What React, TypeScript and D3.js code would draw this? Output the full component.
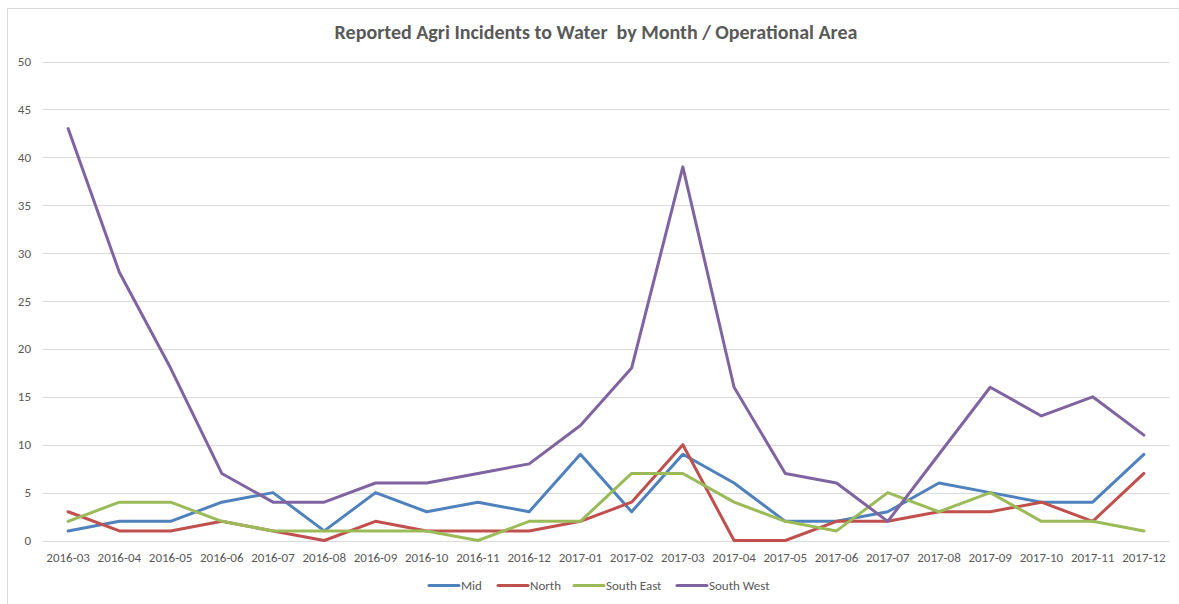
import React from "react";
import * as d3 from "d3";

const months = [
  "2016-03", "2016-04", "2016-05", "2016-06", "2016-07", "2016-08", "2016-09",
  "2016-10", "2016-11", "2016-12", "2017-01", "2017-02", "2017-03", "2017-04",
  "2017-05", "2017-06", "2017-07", "2017-08", "2017-09", "2017-10", "2017-11", "2017-12",
];

const mid = [1, 2, 2, 4, 5, 1, 5, 3, 4, 3, 9, 3, 9, 6, 2, 2, 3, 6, 5, 4, 4, 9];
const north = [3, 1, 1, 2, 1, 0, 2, 1, 1, 1, 2, 4, 10, 0, 0, 2, 2, 3, 3, 4, 2, 7];
const southEast = [2, 4, 4, 2, 1, 1, 1, 1, 0, 2, 2, 7, 7, 4, 2, 1, 5, 3, 5, 2, 2, 1];
const southWest = [43, 28, 18, 7, 4, 4, 6, 6, 7, 8, 12, 18, 39, 16, 7, 6, 2, 9, 16, 13, 15, 11];

const seriesNames = ["Mid", "North", "South East", "South West"];
const yTicks = [0, 5, 10, 15, 20, 25, 30, 35, 40, 45, 50];

const colors = ["#4F81BD", "#C0504D", "#9BBB59", "#8064A2"];

const size = { w: 1179, h: 604 };
const plot = { left: 42.5, right: 1169.5, top: 61.5, bottom: 540.5 };
const font = "Calibri, Carlito, Lato, 'Open Sans', sans-serif";
const textColor = "#595959";

const App = () => {
  const series = [mid, north, southEast, southWest];

  const x = d3
    .scalePoint<string>()
    .domain(months)
    .range([plot.left, plot.right])
    .padding(0.5);

  const y = d3.scaleLinear().domain([0, 50]).range([plot.bottom, plot.top]);

  const line = d3
    .line<number>()
    .x((d, i) => x(months[i]) as number)
    .y((d) => y(d));

  // legend layout: line sample then label
  const legendX = [428, 497, 573, 676];

  return (
    <svg
      width={size.w}
      height={size.h}
      style={{ position: "absolute", left: 0, top: 0, background: "#fff" }}
      fontFamily={font}
    >
      {/* chart frame (top + left edges only, as in the screenshot) */}
      <line x1={7} y1={8.5} x2={size.w} y2={8.5} stroke="#D9D9D9" strokeWidth={1} />
      <line x1={7.5} y1={8} x2={7.5} y2={size.h} stroke="#D9D9D9" strokeWidth={1} />

      <text
        x={596}
        y={39}
        textAnchor="middle"
        fontSize={20}
        fontWeight="bold"
        fill={textColor}
      >
        Reported Agri Incidents to Water{"\u00a0 "}by Month / Operational Area
      </text>

      {/* gridlines + y labels */}
      <g>
        {yTicks.map((t) => (
          <g key={t}>
            <line
              x1={plot.left}
              x2={plot.right}
              y1={Math.round(y(t)) + 0.5}
              y2={Math.round(y(t)) + 0.5}
              stroke="#D9D9D9"
              strokeWidth={1}
            />
            <text
              x={31}
              y={y(t) + 4.5}
              textAnchor="end"
              fontSize={13}
              fill={textColor}
            >
              {t}
            </text>
          </g>
        ))}
      </g>

      {/* x labels */}
      <g>
        {months.map((m) => (
          <text
            key={m}
            x={x(m)}
            y={562}
            textAnchor="middle"
            fontSize={13}
            fill={textColor}
          >
            {m}
          </text>
        ))}
      </g>

      {/* series lines */}
      <g>
        {series.map((s, i) => (
          <path
            key={seriesNames[i]}
            d={line(s) || ""}
            fill="none"
            stroke={colors[i]}
            strokeWidth={3}
            strokeLinejoin="round"
            strokeLinecap="round"
          />
        ))}
      </g>

      {/* legend */}
      <g>
        {seriesNames.map((n, i) => (
          <g key={n}>
            <line
              x1={legendX[i] + 1}
              x2={legendX[i] + 31}
              y1={585.5}
              y2={585.5}
              stroke={colors[i]}
              strokeWidth={3}
              strokeLinecap="round"
            />
            <text x={legendX[i] + 33} y={590} fontSize={13} fill={textColor}>
              {n}
            </text>
          </g>
        ))}
      </g>
    </svg>
  );
};

export default App;
